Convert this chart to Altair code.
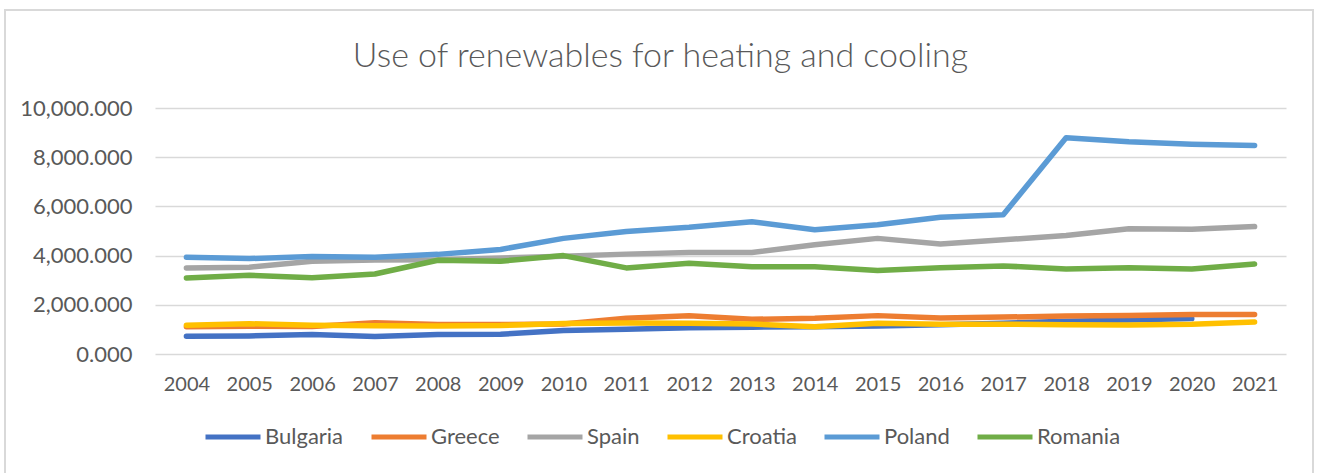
import altair as alt
import pandas as pd

years = [str(y) for y in range(2004, 2022)]
countries = ["Bulgaria", "Greece", "Spain", "Croatia", "Poland", "Romania"]
colors = ["#4472C4", "#ED7D31", "#A5A5A5", "#FFC000", "#5B9BD5", "#70AD47"]

bulgaria = [720, 735, 790, 710, 790, 800, 960, 1010, 1070, 1090, 1110, 1140, 1190, 1250, 1330, 1380, 1440, None]
greece = [1110, 1130, 1120, 1270, 1200, 1200, 1220, 1450, 1550, 1410, 1450, 1560, 1460, 1500, 1540, 1570, 1610, 1610]
spain = [3500, 3530, 3770, 3820, 3830, 3900, 3970, 4060, 4130, 4130, 4440, 4700, 4470, 4640, 4820, 5090, 5070, 5180]
croatia = [1170, 1230, 1170, 1150, 1140, 1160, 1240, 1260, 1250, 1220, 1110, 1250, 1210, 1210, 1190, 1180, 1210, 1300]
poland = [3930, 3880, 3960, 3930, 4050, 4250, 4700, 4980, 5150, 5380, 5050, 5250, 5560, 5660, 8790, 8630, 8530, 8480]
romania = [3090, 3200, 3100, 3250, 3810, 3770, 4000, 3500, 3690, 3550, 3550, 3390, 3510, 3580, 3460, 3510, 3460, 3660]

series = [bulgaria, greece, spain, croatia, poland, romania]
y_ticks = [0, 2000, 4000, 6000, 8000, 10000]

rows = []
for c, vals in zip(countries, series):
    for yr, v in zip(years, vals):
        if v is not None:
            rows.append({"Year": yr, "Country": c, "Value": v})
df = pd.DataFrame(rows)

TEXT = "#595959"
FONT = "Lato"

lines = alt.Chart(df).mark_line(strokeWidth=5.5, strokeCap="round", strokeJoin="round").encode(
    x=alt.X("Year:O", sort=years, axis=alt.Axis(title=None, labelAngle=0, ticks=False, domain=False,
                                               grid=False, labelFontSize=20, labelColor=TEXT,
                                               labelPadding=20, labelFont=FONT)),
    y=alt.Y("Value:Q", scale=alt.Scale(domain=[0, 10000], nice=False),
            axis=alt.Axis(title=None, values=y_ticks, format=",.3f", ticks=False, domain=False,
                          labelFontSize=22, labelColor=TEXT, labelPadding=23, labelFont=FONT,
                          gridColor="#D9D9D9", gridWidth=1.5)),
    color=alt.Color("Country:N", sort=countries, scale=alt.Scale(domain=countries, range=colors),
                    legend=alt.Legend(title=None, orient="none", legendX=48, legendY=299,
                                      direction="horizontal", symbolType="stroke", symbolSize=3025,
                                      symbolStrokeWidth=5, labelFontSize=22, labelColor=TEXT,
                                      labelFont=FONT, columnPadding=17, labelOffset=2)),
)

border = alt.Chart(alt.Data(values=[{}])).mark_rect(filled=False, stroke="#D9D9D9", strokeWidth=2).encode(
    x=alt.value(-150), x2=alt.value(1158), y=alt.value(-98), y2=alt.value(380)
)

chart = alt.layer(border, lines).properties(
    width=1131,
    height=246,
    autosize=alt.AutoSizeParams(type="none"),
    padding={"left": 155, "top": 108, "right": 33, "bottom": 119},
    background="white",
    title=alt.Title("Use of renewables for heating and cooling", fontSize=34, font=FONT,
                    fontWeight=300, color=TEXT, anchor="middle", offset=25, dy=90, dx=-60),
).configure_view(stroke=None)

chart.save("out.html", embed_options={"renderer": "svg", "actions": False})
